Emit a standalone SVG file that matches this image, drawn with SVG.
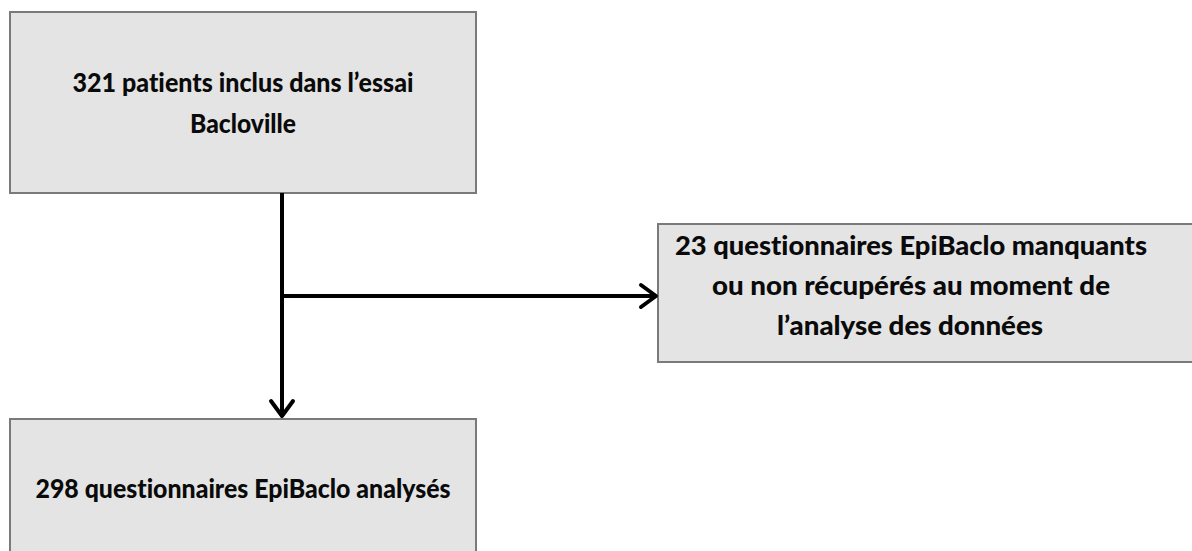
<svg xmlns="http://www.w3.org/2000/svg" width="1192" height="551" viewBox="0 0 1192 551">
<style>
.box{fill:#e4e4e4;stroke:#7a7a7a;stroke-width:2}
.t{font-family:Lato,"Open Sans","Liberation Sans",sans-serif;font-weight:900;font-size:27px;fill:#0a0a0a;text-anchor:middle;font-variant-ligatures:none}
.c{stroke:#000;stroke-width:4;fill:none}
.h{stroke:#000;stroke-width:4;fill:none;stroke-linecap:round;stroke-linejoin:round}
</style>
<rect width="1192" height="551" fill="#fff"/>
<g id="n1">
<rect class="box" x="10" y="12" width="466" height="181"/>
<text class="t" x="243" y="92" textLength="341" lengthAdjust="spacingAndGlyphs">321 patients inclus dans l’essai</text>
<text class="t" x="243" y="133" textLength="106" lengthAdjust="spacingAndGlyphs">Bacloville</text>
</g>
<g id="n2">
<rect class="box" x="658" y="224" width="545" height="138"/>
<text class="t" x="911" y="255" textLength="472" lengthAdjust="spacingAndGlyphs">23 questionnaires EpiBaclo manquants</text>
<text class="t" x="911" y="295" textLength="398" lengthAdjust="spacingAndGlyphs">ou non récupérés au moment de</text>
<text class="t" x="910" y="335" textLength="266" lengthAdjust="spacingAndGlyphs">l’analyse des données</text>
</g>
<g id="n3">
<rect class="box" x="10" y="419" width="466" height="145"/>
<text class="t" x="243" y="498" textLength="415" lengthAdjust="spacingAndGlyphs">298 questionnaires EpiBaclo analysés</text>
</g>
<g id="connectors">
<line class="c" x1="282" y1="193" x2="282" y2="416"/>
<line class="c" x1="282" y1="296" x2="656" y2="296"/>
<polyline class="h" points="271,401 282,416 293,401"/>
<polyline class="h" points="641,285 656,296 641,307"/>
</g>
</svg>
